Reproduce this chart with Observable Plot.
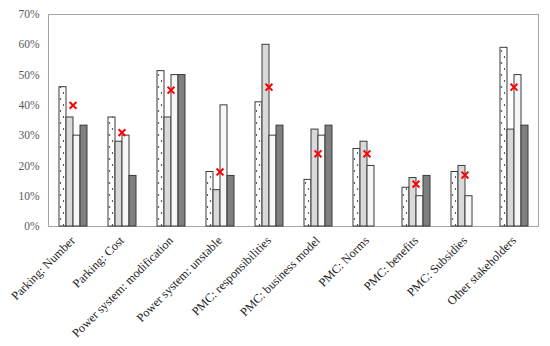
<!DOCTYPE html>
<html><head><meta charset="utf-8">
<script src="https://cdn.jsdelivr.net/npm/d3@7"></script>
<script src="https://cdn.jsdelivr.net/npm/@observablehq/plot@0.6"></script>
<style>body{margin:0;background:#fff}</style>
</head><body><div id="chart"></div>
<script>
const categories = ["Parking: Number","Parking: Cost","Power system: modification","Power system: unstable","PMC: responsibilities","PMC: business model","PMC: Norms","PMC: benefits","PMC: Subsidies","Other stakeholders"];
const series = ["Series 1","Series 2","Series 3","Series 4"];
const s1 = [46,36,51.3,18,41,15.4,25.6,12.8,18,59];
const s2 = [36,28,36,12,60,32,28,16,20,32];
const s3 = [30,30,50,40,30,30,20,10,10,50];
const s4 = [33.3,16.7,50,16.7,33.3,33.3,null,16.7,null,33.3];
const avg = [40,31,45,18,46,24,24,14,17,46];
const yTicks = [0,10,20,30,40,50,60,70];

const rows = categories.flatMap((c,i)=>[s1,s2,s3,s4].map((a,j)=>({cat:c,s:series[j],v:a[i]}))).filter(d=>d.v!=null);
const avgRows = categories.map((c,i)=>({cat:c,v:avg[i]}));

const chart = Plot.plot({
  width:550, height:346, marginLeft:43, marginRight:8, marginTop:14, marginBottom:120,
  style:{fontFamily:"'Liberation Serif', 'Times New Roman', serif", background:"#fff"},
  fx:{domain:categories, padding:0, label:null},
  x:{domain:series, paddingInner:0, paddingOuter:1.125, axis:null},
  y:{domain:[0,70], label:null},
  color:{type:"ordinal", domain:series, range:["url(#dots)","#d9d9d9","#f7f7f7","#7f7f7f"]},
  marks:[
    Plot.frame({facet:"super", stroke:"#a6a6a6", strokeWidth:1}),
    Plot.barY(rows,{fx:"cat", x:"s", y:"v", fill:"s", stroke:"#3a3a3a", strokeWidth:1}),
    Plot.dot(avgRows,{fx:"cat", y:"v", symbol:"times", stroke:"#ff0000", strokeWidth:2, r:3.2}),
    Plot.axisY({ticks:yTicks, tickFormat:d=>d+"%", tickSize:0, tickPadding:9, color:"#595959", fontSize:11.5}),
    Plot.axisFx({anchor:"bottom", tickRotate:-45, tickSize:0, tickPadding:12, fontSize:12.2, color:"#222", label:null})
  ]
});
const ns="http://www.w3.org/2000/svg";
const defs=document.createElementNS(ns,"defs");
defs.innerHTML='<pattern id="dots" patternUnits="userSpaceOnUse" width="6" height="12"><rect width="6" height="12" fill="#fff"/><circle cx="1.5" cy="3" r="0.7" fill="#000"/><circle cx="4.5" cy="9" r="0.7" fill="#000"/></pattern>';
chart.prepend(defs);
document.getElementById("chart").appendChild(chart);
</script></body></html>
